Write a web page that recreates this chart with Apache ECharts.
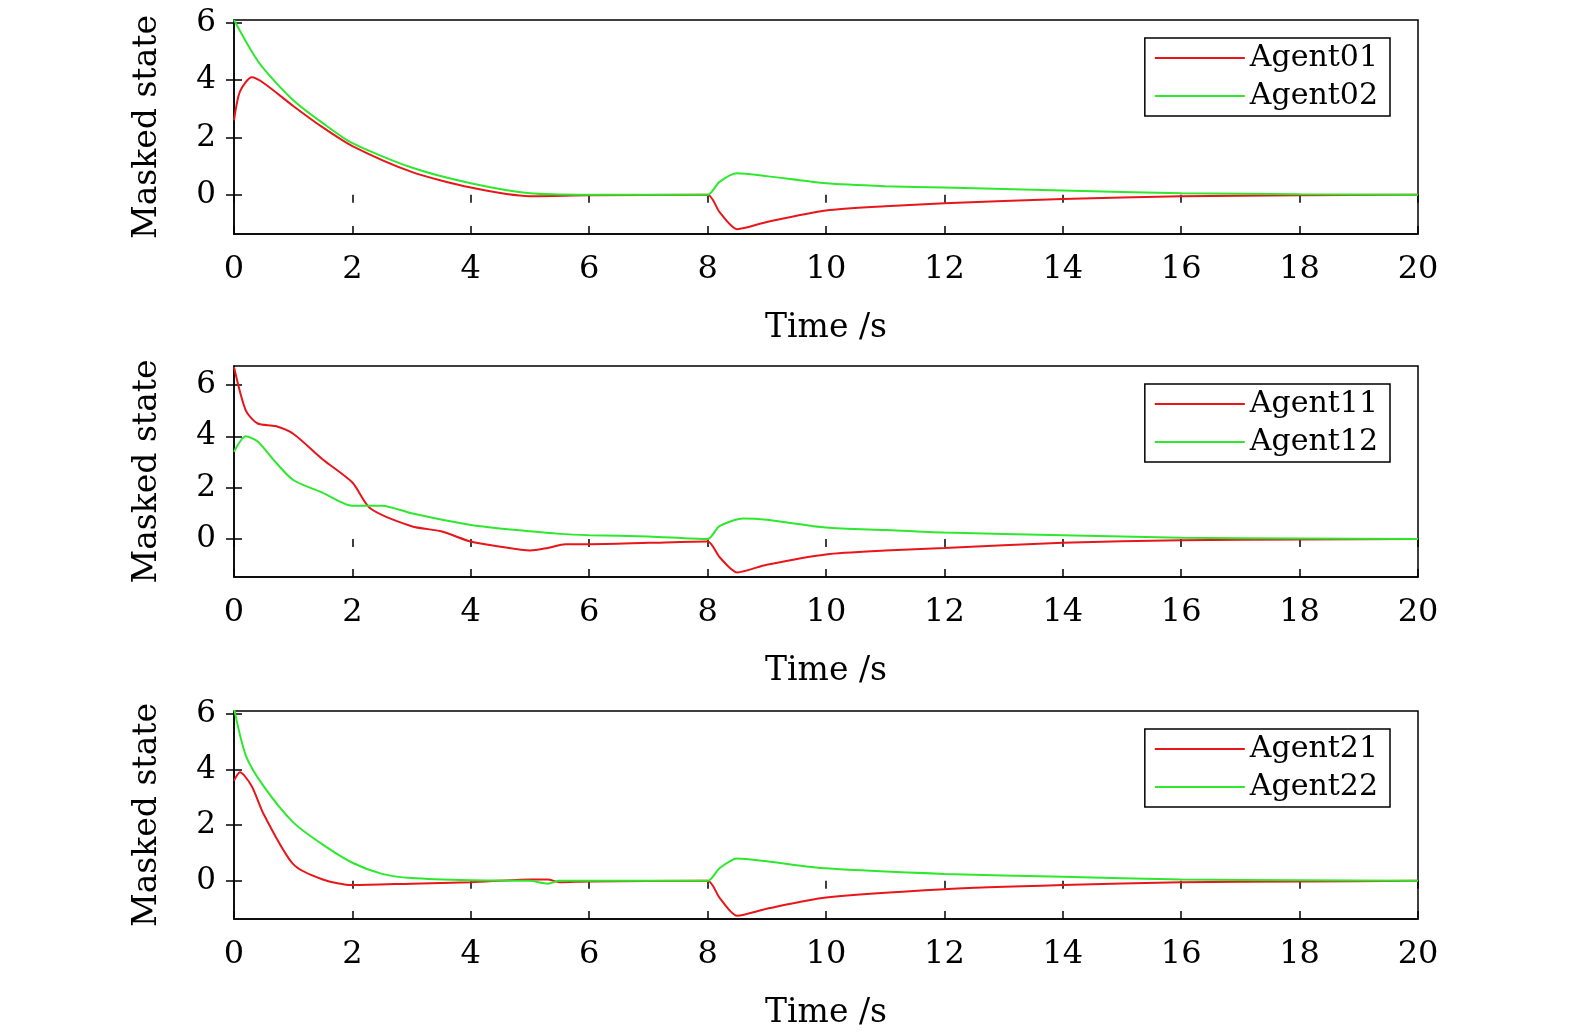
<!DOCTYPE html>
<html lang="en">
<head>
<meta charset="UTF-8">
<title>Masked state</title>
<script src="https://cdn.jsdelivr.net/npm/echarts@6/dist/echarts.min.js"></script>
<style>body{margin:0;background:#fff}#main{width:1575px;height:1036px}</style>
</head>
<body>
<div id="main"></div>
<script>
// panel 1
var t01 = [0,0.1,0.3,0.5,1,1.5,2,3,4,5,6,8,8.2,8.5,9,10,11,12,14,16,18,20];
var y01 = [2.6,3.6,4.1,3.9,3.1,2.35,1.7,0.8,0.25,-0.05,-0.02,0,-0.6,-1.2,-0.95,-0.55,-0.4,-0.3,-0.15,-0.05,-0.02,0];
var t02 = [0,0.3,0.5,1,1.5,2,3,4,5,6,8,8.2,8.5,9,10,11,12,14,16,18,20];
var y02 = [6.1,5.0,4.4,3.3,2.5,1.8,0.95,0.4,0.05,0,0,0.45,0.75,0.65,0.4,0.3,0.25,0.15,0.05,0.02,0];
// panel 2
var t11 = [0,0.2,0.4,0.7,1,1.5,2,2.3,3,3.5,4,4.5,5,5.3,5.6,6,7,8,8.2,8.5,9,10,11,12,14,16,18,20];
var y11 = [6.7,5.0,4.5,4.4,4.1,3.1,2.2,1.2,0.5,0.3,-0.1,-0.3,-0.45,-0.35,-0.2,-0.2,-0.15,-0.1,-0.7,-1.3,-1.0,-0.6,-0.45,-0.35,-0.15,-0.05,-0.02,0];
var t12 = [0,0.2,0.4,0.7,1,1.5,2,2.5,3,4,5,5.5,6,7,8,8.2,8.6,9,10,11,12,14,16,18,20];
var y12 = [3.4,4.0,3.8,3.0,2.3,1.8,1.3,1.3,1.0,0.55,0.3,0.2,0.15,0.1,0,0.5,0.8,0.75,0.45,0.35,0.25,0.15,0.05,0.02,0];
// panel 3
var t21 = [0,0.1,0.3,0.5,1,1.5,2,3,4,5,5.3,5.5,6,8,8.2,8.5,9,10,12,14,16,18,20];
var y21 = [3.6,3.9,3.4,2.4,0.6,0.05,-0.15,-0.1,-0.05,0.05,0.05,-0.05,-0.02,0,-0.6,-1.25,-1.0,-0.6,-0.3,-0.15,-0.05,-0.02,0];
var t22 = [0,0.2,0.5,1,1.5,2,2.5,3,4,5,5.3,5.5,8,8.2,8.5,9,10,12,14,16,18,20];
var y22 = [6.2,4.5,3.4,2.1,1.3,0.65,0.25,0.1,0.02,0,-0.1,0,0,0.45,0.8,0.7,0.45,0.25,0.15,0.05,0.02,0];

var yTicks = [0,2,4,6];
var names = [['Agent01','Agent02'],['Agent11','Agent12'],['Agent21','Agent22']];
var panels = [[t01,y01,t02,y02],[t11,y11,t12,y12],[t21,y21,t22,y22]];

var font = 'DejaVu Serif';
var tops = [20,366,711], heights = [214,211,208];
var yMin = [-1.37,-1.48,-1.37], yMax = [6.1,6.74,6.1];

function zip(t, y){ return t.map(function(v,i){ return [v, y[i]]; }); }

var grid = [], xAxis = [], yAxis = [], series = [], legend = [];
for (var i = 0; i < 3; i++) {
  grid.push({left:234, width:1184, top:tops[i], height:heights[i], outerBoundsMode:'none', containLabel:false,
    show:true, borderColor:'#000', borderWidth:1.5});
  var tick = {show:true, inside:true, length:8, lineStyle:{color:'#000', width:1.5}};
  xAxis.push({type:'value', gridIndex:i, min:0, max:20, interval:2,
    name:'Time /s', nameLocation:'middle', nameGap:78,
    nameTextStyle:{fontFamily:font, fontSize:33, color:'#000'},
    axisLine:{onZero:false, lineStyle:{color:'#000', width:1.5}}, axisTick:tick, splitLine:{show:false},
    axisLabel:{fontFamily:font, fontSize:32, color:'#000', margin:20}});
  xAxis.push({type:'value', gridIndex:i, min:0, max:20, interval:2, position:'top',
    axisLine:{show:false}, axisTick:tick, axisLabel:{show:false}, splitLine:{show:false}});
  yAxis.push({type:'value', gridIndex:i, min:yMin[i], max:yMax[i],
    name:'Masked state', nameLocation:'middle', nameGap:70,
    nameTextStyle:{fontFamily:font, fontSize:33, color:'#000'},
    axisLine:{onZero:false, lineStyle:{color:'#000', width:1.5}},
    axisTick:{show:true, inside:true, length:8, customValues:yTicks, lineStyle:{color:'#000', width:1.5}},
    axisLabel:{fontFamily:font, fontSize:31, color:'#000', margin:18, customValues:yTicks},
    splitLine:{show:false}});
  yAxis.push({type:'value', gridIndex:i, min:yMin[i], max:yMax[i], position:'right',
    axisLine:{show:false},
    axisTick:{show:true, inside:true, length:8, customValues:yTicks, lineStyle:{color:'#000', width:1.5}},
    axisLabel:{show:false}, splitLine:{show:false}});
  var p = panels[i];
  series.push({name:names[i][0], type:'line', xAxisIndex:2*i, yAxisIndex:2*i, data:zip(p[0],p[1]),
    showSymbol:false, smooth:0.25, lineStyle:{color:'#e8161b', width:2}, itemStyle:{color:'#e8161b'}});
  series.push({name:names[i][1], type:'line', xAxisIndex:2*i, yAxisIndex:2*i, data:zip(p[2],p[3]),
    showSymbol:false, smooth:0.25, lineStyle:{color:'#2ee82e', width:2}, itemStyle:{color:'#2ee82e'}});
  legend.push({data:names[i], orient:'vertical', right:185, top:tops[i]+18,
    backgroundColor:'#fff', borderColor:'#000', borderWidth:1.5, padding:[5,12,5,10],
    itemWidth:90, itemHeight:2, itemGap:8, icon:'rect',
    textStyle:{fontFamily:font, fontSize:30, color:'#000'}});
}

var chart = echarts.init(document.getElementById('main'));
chart.setOption({animation:false, grid:grid, xAxis:xAxis, yAxis:yAxis, series:series, legend:legend});
</script>
</body>
</html>
